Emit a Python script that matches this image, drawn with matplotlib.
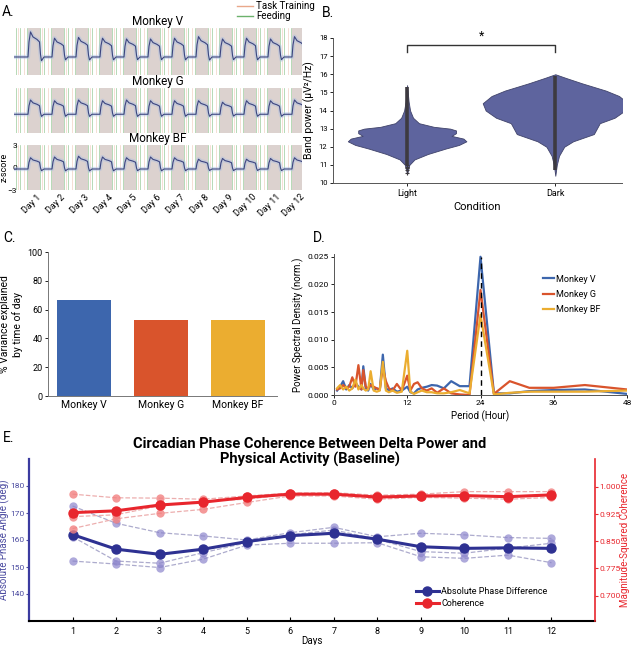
import numpy as np
import matplotlib
matplotlib.use('Agg')
import matplotlib.pyplot as plt
from matplotlib.lines import Line2D

plt.rcParams['font.family'] = ['Roboto', 'DejaVu Sans']

W, H = 633, 645
fig = plt.figure(figsize=(W / 100, H / 100), dpi=100)


def px_axes(l, t, r, b):
    return fig.add_axes([l / W, 1 - b / H, (r - l) / W, (b - t) / H])


# ---------------- data ----------------
# panel A: daily z-score profile (hours after dark onset) and per-day amplitude
cycle_t = [0, 1, 2.5, 5, 9, 11.5, 12.5, 13.5, 16, 24]
cycle_f = [0, 0.6, 1.0, 0.8, 0.7, 0.6, 0.1, -0.15, 0, 0]
monkeys = ['Monkey V', 'Monkey G', 'Monkey BF']
base_levels = [-0.7, -0.5, -0.2]
amp_V = [3.2, 2.4, 2.5, 2.4, 2.3, 2.3, 2.4, 2.6, 2.3, 2.4, 2.3, 2.6]
amp_G = [1.9, 1.8, 1.9, 1.8, 1.9, 1.8, 1.8, 1.8, 1.6, 1.8, 1.8, 1.9]
amp_BF = [1.5, 1.6, 1.7, 1.6, 1.5, 1.6, 1.5, 1.3, 1.4, 1.3, 1.4, 1.5]
dark_onset = 14
feed_hours = [1.5, 6, 12.5]
train_hours = [4, 9.5]
day_labels = ['Day %d' % d for d in range(1, 13)]

# panel B: violin outlines (band power, half width)
light_y = [10.5, 11.0, 11.3, 11.6, 11.9, 12.1, 12.3, 12.45, 12.6, 12.75, 12.9, 13.0, 13.1, 13.3, 13.6, 14.0, 14.5, 15.4]
light_w = [0.0, 0.015, 0.05, 0.14, 0.26, 0.35, 0.40, 0.38, 0.30, 0.33, 0.33, 0.29, 0.18, 0.08, 0.04, 0.02, 0.01, 0.0]
dark_y = [10.4, 11.0, 11.5, 12.0, 12.3, 12.7, 13.0, 13.3, 13.6, 14.0, 14.4, 14.8, 15.1, 15.5, 15.8, 16.0]
dark_w = [0.0, 0.01, 0.025, 0.06, 0.12, 0.26, 0.28, 0.30, 0.40, 0.47, 0.49, 0.43, 0.34, 0.18, 0.07, 0.0]

# panel C
var_explained = [67, 52.8, 52.5]
colors = ['#3d66ad', '#d9542c', '#ebad30']

# panel D: normalized PSD vs period
periods = [0.5, 1.0, 1.5, 2.0, 2.5, 3.0, 3.5, 4.0, 4.5, 4.8, 5.2, 5.6, 6.0, 6.5, 7.0, 7.5, 8.0, 8.5, 9.0, 9.6,
           10.3, 11.1, 12.0, 12.5, 13.1, 13.7, 14.4, 15.2, 16.0, 16.9, 18.0, 19.2, 20.6, 22.2, 24.0, 26.2,
           28.8, 32.0, 36.0, 41.1, 48.0]
psd_V = [0.0008, 0.0015, 0.0025, 0.001, 0.0018, 0.0012, 0.0022, 0.0015, 0.001, 0.0052, 0.0012, 0.0008,
         0.002, 0.001, 0.0012, 0.0009, 0.0073, 0.0012, 0.0008, 0.0012, 0.0006, 0.0008, 0.0015, 0.0005,
         0.0003, 0.001, 0.0013, 0.0015, 0.0018, 0.0017, 0.0012, 0.0025, 0.0016, 0.0016, 0.025, 0.0003,
         0.0003, 0.0007, 0.0009, 0.001, 0.0002]
psd_G = [0.001, 0.0012, 0.0018, 0.0012, 0.0015, 0.0032, 0.0015, 0.0054, 0.001, 0.0045, 0.0015, 0.0012,
         0.0018, 0.0015, 0.0012, 0.001, 0.005, 0.0025, 0.0012, 0.0008, 0.002, 0.0008, 0.0035, 0.0008,
         0.002, 0.0023, 0.0012, 0.0008, 0.0012, 0.0004, 0.0012, 0.0003, 0.0001, 0.0, 0.019, 0.0002,
         0.0025, 0.0013, 0.0013, 0.0018, 0.001]
psd_BF = [0.0012, 0.0018, 0.001, 0.0015, 0.0008, 0.0012, 0.0028, 0.001, 0.0018, 0.0012, 0.0008, 0.001,
          0.0043, 0.0008, 0.0006, 0.0008, 0.006, 0.0008, 0.0005, 0.0008, 0.0004, 0.0006, 0.008, 0.0006,
          0.0002, 0.0005, 0.0008, 0.0005, 0.0005, 0.0003, 0.0003, 0.0005, 0.0009, 0.0003, 0.0145, 0.0001,
          0.0004, 0.0006, 0.0006, 0.0006, 0.0008]

# panel E
days = list(range(1, 13))
phase_mean = [162.0, 156.6, 154.7, 156.6, 159.4, 161.6, 162.5, 160.3, 157.5, 156.9, 157.1, 156.9]
phase_a = [172.6, 166.2, 162.7, 161.5, 160.0, 162.7, 164.7, 161.2, 162.5, 161.9, 160.9, 160.6]
phase_b = [161.2, 152.2, 151.4, 155.3, 159.0, 161.9, 163.7, 160.3, 155.7, 155.1, 157.0, 158.8]
phase_c = [152.2, 151.1, 149.8, 152.9, 158.1, 158.8, 158.8, 159.0, 153.8, 153.2, 154.4, 151.6]
coh_mean = [0.929, 0.934, 0.950, 0.958, 0.971, 0.980, 0.980, 0.972, 0.975, 0.976, 0.973, 0.978]
coh_a = [0.980, 0.970, 0.969, 0.966, 0.975, 0.983, 0.984, 0.977, 0.980, 0.987, 0.987, 0.987]
coh_b = [0.918, 0.923, 0.948, 0.961, 0.966, 0.980, 0.980, 0.972, 0.975, 0.976, 0.973, 0.978]
coh_c = [0.885, 0.912, 0.927, 0.938, 0.957, 0.975, 0.975, 0.966, 0.971, 0.969, 0.966, 0.971]

# ---------------- panel A ----------------
amps = [amp_V, amp_G, amp_BF]
a_rows = [(28, 75), (88, 133), (145, 190)]
for i, (t, b) in enumerate(a_rows):
    ax = px_axes(14, t, 302, b)
    tt = [0, dark_onset]
    zz = [base_levels[i], base_levels[i]]
    for d in range(12):
        start = dark_onset + 24 * d
        ax.axvspan(start, start + 12, color='#dcd2cf', lw=0, zorder=0)
        for h in feed_hours:
            ax.axvline(24 * d + h, color='#78b878', lw=0.5, alpha=0.75, zorder=1)
        for h in train_hours:
            ax.axvline(24 * d + h, color='#e9b49c', lw=0.5, alpha=0.6, zorder=1)
        for ct, cf in zip(cycle_t[1:], cycle_f[1:]):
            tt.append(start + ct)
            zz.append(base_levels[i] + amps[i][d] * cf)
    ax.plot(tt, zz, color='#a9bde0', lw=3, alpha=0.45, zorder=2)
    ax.plot(tt, zz, color='#3c4580', lw=0.8, zorder=3)
    ax.set_xlim(0, 288)
    ax.set_ylim(-3, 3)
    for s in ax.spines.values():
        s.set_visible(False)
    ax.set_title(monkeys[i], fontsize=8.5, pad=1)
    if i == 2:
        ax.set_yticks([-3, 0, 3])
        ax.tick_params(axis='y', labelsize=6, length=0, pad=-2)
        ax.set_ylabel('z-score', fontsize=6.5)
        ax.yaxis.set_label_coords(-0.02, 0.5)
        ax.set_xticks([24 * d + 22 for d in range(12)])
        ax.set_xticklabels(day_labels, rotation=45, ha='right', rotation_mode='anchor', fontsize=6.5)
        ax.tick_params(axis='x', length=0, pad=2)
    else:
        ax.set_xticks([])
        ax.set_yticks([])

fig.add_artist(Line2D([237 / W, 253 / W], [1 - 6 / H, 1 - 6 / H], color='#e9a88a', lw=1.0,
                      transform=fig.transFigure))
fig.add_artist(Line2D([237 / W, 253 / W], [1 - 16 / H, 1 - 16 / H], color='#6cb26c', lw=1.0,
                      transform=fig.transFigure))
fig.text(256 / W, 1 - 6 / H, 'Task Training', fontsize=7, va='center')
fig.text(256 / W, 1 - 16 / H, 'Feeding', fontsize=7, va='center')

# ---------------- panel B ----------------
axb = px_axes(333, 38, 622, 183)
for pos, vy, vw in [(1, light_y, light_w), (2, dark_y, dark_w)]:
    vy = np.array(vy)
    vw = np.array(vw)
    axb.fill_betweenx(vy, pos - vw, pos + vw, color='#5e649e', edgecolor='#40436a', lw=0.6, zorder=2)
axb.plot([1, 1], [11.0, 15.3], color='#3d3a40', lw=2.6, zorder=3, solid_capstyle='butt')
axb.plot([1] * 5, [10.55, 10.7, 10.8, 10.9, 11.0], '+', color='#3d3a40', ms=3, mew=0.8, zorder=3)
axb.plot([2, 2], [10.7, 15.9], color='#3d3a40', lw=2.6, zorder=3, solid_capstyle='butt')
axb.plot([1, 1, 2, 2], [17.25, 17.6, 17.6, 17.25], color='#333333', lw=1.0)
axb.text(1.5, 17.75, '*', ha='center', va='bottom', fontsize=9)
axb.set_xlim(0.5, 2.45)
axb.set_ylim(10, 18)
axb.set_yticks(range(10, 19))
axb.set_xticks([1, 2])
axb.set_xticklabels(['Light', 'Dark'])
axb.tick_params(axis='y', labelsize=5.5, length=2.5, width=0.6, pad=1.5)
axb.tick_params(axis='x', labelsize=6.5, length=2.5, width=0.6, pad=2)
axb.set_xlabel('Condition', fontsize=8, labelpad=3)
axb.set_ylabel('Band power (µV²/Hz)', fontsize=7.5, labelpad=3)
for s in ['top', 'right']:
    axb.spines[s].set_visible(False)
for s in ['left', 'bottom']:
    axb.spines[s].set_color('#555555')
    axb.spines[s].set_linewidth(0.7)

# ---------------- panel C ----------------
axc = px_axes(48, 252, 277, 396)
axc.bar(range(3), var_explained, width=0.7, color=colors)
axc.set_xlim(-0.47, 2.51)
axc.set_ylim(0, 100)
axc.set_yticks(range(0, 101, 20))
axc.set_xticks(range(3))
axc.set_xticklabels(monkeys)
axc.tick_params(axis='y', labelsize=6.5, length=2, width=0.6, pad=2)
axc.tick_params(axis='x', labelsize=7.5, length=0, pad=3)
axc.set_ylabel('% Variance explained\nby time of day', fontsize=7.5, labelpad=3)
for s in ['top', 'right']:
    axc.spines[s].set_visible(False)
for s in ['left', 'bottom']:
    axc.spines[s].set_color('#777777')
    axc.spines[s].set_linewidth(0.7)

# ---------------- panel D ----------------
axd = px_axes(334, 254, 627, 395)
for vals, c, lab in [(psd_V, colors[0], 'Monkey V'), (psd_G, colors[1], 'Monkey G'), (psd_BF, colors[2], 'Monkey BF')]:
    axd.plot(periods, vals, color=c, lw=1.6, label=lab)
axd.plot([24, 24], [0, 0.025], color='black', lw=1.0, ls=(0, (4, 3)), zorder=5)
axd.set_xlim(0, 48)
axd.set_ylim(0, 0.0255)
axd.set_xticks([0, 12, 24, 36, 48])
axd.set_yticks([0, 0.005, 0.01, 0.015, 0.02, 0.025])
axd.set_yticklabels(['0.000', '0.005', '0.010', '0.015', '0.020', '0.025'])
axd.tick_params(labelsize=6, length=2, width=0.6, pad=1.5)
axd.set_xlabel('Period (Hour)', fontsize=7, labelpad=3)
axd.set_ylabel('Power Spectral Density (norm.)', fontsize=7, labelpad=3)
axd.legend(loc='upper left', bbox_to_anchor=(0.7, 0.88), frameon=False, fontsize=6.5,
           handlelength=1.3, handletextpad=0.2, labelspacing=0.7, borderaxespad=0)
for s in ['top', 'right']:
    axd.spines[s].set_visible(False)
for s in ['left', 'bottom']:
    axd.spines[s].set_color('#555555')
    axd.spines[s].set_linewidth(0.7)

# ---------------- panel E ----------------
blue = '#2e3192'
red = '#e8262d'
axe = px_axes(29, 459, 595, 621)
axr = axe.twinx()
for ind in [phase_a, phase_b, phase_c]:
    axe.plot(days, ind, ls='--', lw=0.9, color='#8a88b8', alpha=0.7, marker='o', ms=6,
             mfc=(0.55, 0.52, 0.8, 0.45), mec='none', zorder=1)
l1, = axe.plot(days, phase_mean, color=blue, lw=2.2, marker='o', ms=6.5, zorder=3)
for ind in [coh_a, coh_b, coh_c]:
    axr.plot(days, ind, ls='--', lw=0.9, color='#e89a9a', alpha=0.8, marker='o', ms=6,
             mfc=(0.95, 0.5, 0.5, 0.45), mec='none', zorder=1)
l2, = axr.plot(days, coh_mean, color=red, lw=2.2, marker='o', ms=6.5, zorder=3)
axe.set_xlim(0, 13)
axe.set_ylim(130, 190)
axr.set_ylim(0.63, 1.077)
axe.set_xticks(days)
axe.set_yticks([140, 150, 160, 170, 180])
axr.set_yticks([0.7, 0.775, 0.85, 0.925, 1.0])
axr.set_yticklabels(['0.700', '0.775', '0.850', '0.925', '1.000'])
axe.tick_params(axis='x', direction='in', length=3, labelsize=6.5, pad=4)
axe.tick_params(axis='y', colors='#4b4ba0', labelsize=6, length=2, pad=1)
axr.tick_params(axis='y', colors=red, labelsize=6, length=2, pad=1)
axe.set_xlabel('Days', fontsize=7)
axe.xaxis.set_label_coords(0.5, -0.09)
axe.set_ylabel('Absolute Phase Angle (deg)', color='#4b4ba0', fontsize=7)
axe.yaxis.set_label_coords(-0.033, 0.5)
axr.set_ylabel('Magnitude-Squared Coherence', color=red, fontsize=7)
axr.yaxis.set_label_coords(1.045, 0.5)
for a in [axe, axr]:
    a.spines['top'].set_visible(False)
axe.spines['right'].set_visible(False)
axe.spines['left'].set_color('#3b3ba0')
axe.spines['left'].set_linewidth(1.6)
axe.spines['bottom'].set_linewidth(1.5)
axr.spines['left'].set_visible(False)
axr.spines['right'].set_color(red)
axr.spines['right'].set_linewidth(1.2)
axr.spines['bottom'].set_visible(False)
axe.legend([l1, l2], ['Absolute Phase Difference', 'Coherence'], loc='lower right',
           bbox_to_anchor=(0.93, 0.03), frameon=False, fontsize=6.5, handlelength=2.6,
           handletextpad=0.2, labelspacing=0.3)
fig.text(310 / W, 1 - 452 / H, 'Circadian Phase Coherence Between Delta Power and\nPhysical Activity (Baseline)',
         ha='center', va='center', fontsize=10.5, fontweight='bold', linespacing=1.15)

# panel letters
for lab, x, y in [('A.', 2, 12), ('B.', 322, 13), ('C.', 3, 238), ('D.', 313, 238), ('E.', 3, 438)]:
    fig.text(x / W, 1 - y / H, lab, fontsize=10, va='center')

fig.savefig('out.png', dpi=100)
